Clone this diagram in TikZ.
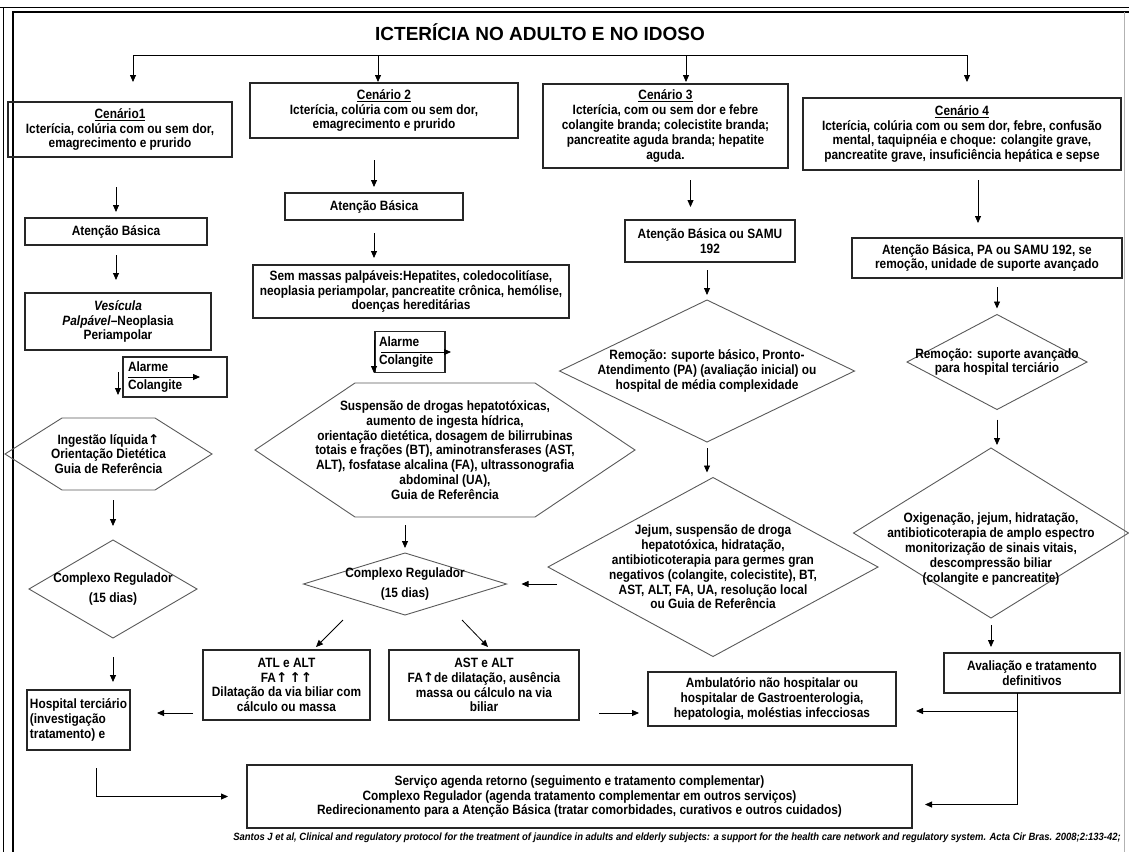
\documentclass[tikz,border=0pt]{standalone}
\usepackage{fontspec}
\setmainfont{Liberation Sans}
\newfontfamily\corpo{Liberation Sans}[FakeStretch=0.88]
\newfontfamily\rodape{Liberation Sans}[FakeStretch=0.9]
\newfontfamily\simbolo{DejaVu Sans}
\newcommand{\sobe}{{\simbolo\bfseries ↑}}
\usetikzlibrary{arrows.meta,shapes.geometric,calc}

\begin{document}
\begin{tikzpicture}[x=1pt,y=-1pt,
    texto/.style={align=center,inner sep=0pt,outer sep=0pt,
      font=\corpo\bfseries\fontsize{13.5}{14.8}\selectfont},
    caixa/.style={texto,draw=black!85,line width=1.1pt},
    losango/.style={diamond,draw=black!65,line width=0.9pt,inner sep=0pt,outer sep=0pt},
    hexa/.style={draw=black!65,line width=0.9pt},
    seta/.style={-{Triangle[length=7pt,width=6pt]},line width=0.8pt}]
  \useasboundingbox (0,0) rectangle (1129,852);

  % moldura
  \draw[line width=0.6pt] (0,7) -- (1129,7);
  \draw[line width=0.6pt] (3,7) -- (3,852);
  \draw[line width=2.5pt] (13,12) -- (1129,12);
  \draw[line width=2.5pt] (13,11) -- (13,852);
  \draw[black!30,line width=0.6pt] (1124,12) -- (1124,852);

  \node[font=\bfseries\fontsize{19}{22}\selectfont] (titulo) at (540,32) {ICTERÍCIA NO ADULTO E NO IDOSO};

  % coluna 1
  \node[caixa,minimum width=224pt,minimum height=55pt] (c1) at (120,129.5)
    {\underline{Cenário1}\\Icterícia, colúria com ou sem dor,\\emagrecimento e prurido};
  \node[caixa,minimum width=182pt,minimum height=27pt] (ab1) at (116,231.5) {Atenção Básica};
  \node[caixa,minimum width=186pt,minimum height=57pt] (ves) at (118,321.5)
    {\textit{Vesícula}\\\textit{Palpável}–Neoplasia\\Periampolar};
  \node[caixa,align=left,text width=94pt,minimum width=104pt,minimum height=40pt] (al1) at (175,377)
    {Alarme\\[4pt]Colangite};
  \node[texto,minimum width=207pt,minimum height=72pt] (hex1) at (108.5,454)
    {Ingestão líquida\sobe\\Orientação Dietética\\Guia de Referência};
  \node[losango,minimum width=168pt,minimum height=98pt] (dia1) at (113,589) {};
  \node[texto] (t1) at (dia1) {Complexo Regulador\\[5pt](15 dias)};
  \node[caixa,align=left,minimum width=103pt,minimum height=60pt] (hosp) at (78.5,720)
    {Hospital terciário\\(investigação\\tratamento) e};

  % coluna 2
  \node[caixa,minimum width=268pt,minimum height=55pt] (c2) at (384,110.5)
    {\underline{Cenário 2}\\Icterícia, colúria com ou sem dor,\\emagrecimento e prurido};
  \node[caixa,minimum width=178pt,minimum height=27pt] (ab2) at (374,206.5) {Atenção Básica};
  \node[caixa,minimum width=316pt,minimum height=53pt] (sem) at (411,291.5)
    {Sem massas palpáveis:Hepatites, coledocolitíase,\\neoplasia periampolar, pancreatite crônica, hemólise,\\doenças hereditárias};
  \node[caixa,align=left,text width=62pt,minimum width=70pt,minimum height=41pt] (al2) at (410,352)
    {Alarme\\[4pt]Colangite};
  \node[texto,minimum width=380pt,minimum height=134pt] (hex2) at (445,450)
    {Suspensão de drogas hepatotóxicas,\\aumento de ingesta hídrica,\\orientação dietética, dosagem de bilirrubinas\\totais e frações (BT), aminotransferases (AST,\\ALT), fosfatase alcalina (FA), ultrassonografia\\abdominal (UA),\\Guia de Referência};
  \node[losango,minimum width=203pt,minimum height=62pt] (dia2) at (405,584) {};
  \node[texto] (t2) at (dia2) {Complexo Regulador\\[5pt](15 dias)};
  \node[caixa,minimum width=167pt,minimum height=70pt] (atl) at (286.5,685)
    {ATL e ALT\\FA\sobe\,\sobe\sobe\\Dilatação da via biliar com\\cálculo ou massa};
  \node[caixa,minimum width=190pt,minimum height=70pt] (ast) at (484,685)
    {AST e ALT\\FA\sobe de dilatação, ausência\\massa ou cálculo na via\\biliar};

  % coluna 3
  \node[caixa,minimum width=245pt,minimum height=84pt] (c3) at (665.5,126)
    {\underline{Cenário 3}\\Icterícia, com ou sem dor e febre\\colangite branda; colecistite branda;\\pancreatite aguda branda; hepatite\\aguda.};
  \node[caixa,minimum width=170pt,minimum height=42pt] (ab3) at (710,241) {Atenção Básica ou SAMU\\192};
  \node[losango,minimum width=295pt,minimum height=142pt] (dia3a) at (707,371) {};
  \node[texto] (t3a) at (dia3a) {Remoção: suporte básico, Pronto-\\Atendimento (PA) (avaliação inicial) ou\\hospital de média complexidade};
  \node[losango,minimum width=330pt,minimum height=179pt] (dia3b) at (713,567) {};
  \node[texto] (t3b) at (dia3b) {Jejum, suspensão de droga\\hepatotóxica, hidratação,\\antibioticoterapia para germes gran\\negativos (colangite, colecistite), BT,\\AST, ALT, FA, UA, resolução local\\ou Guia de Referência};
  \node[caixa,minimum width=248pt,minimum height=54pt] (amb) at (772,699)
    {Ambulatório não hospitalar ou\\hospitalar de Gastroenterologia,\\hepatologia, moléstias infecciosas};

  % coluna 4
  \node[caixa,minimum width=318pt,minimum height=72pt] (c4) at (962,134)
    {\underline{Cenário 4}\\Icterícia, colúria com ou sem dor, febre, confusão\\mental, taquipnéia e choque: colangite grave,\\pancreatite grave, insuficiência hepática e sepse};
  \node[caixa,minimum width=270pt,minimum height=40pt] (ab4) at (987,258)
    {Atenção Básica, PA ou SAMU 192, se\\remoção, unidade de suporte avançado};
  \node[losango,minimum width=180pt,minimum height=95pt] (dia4a) at (997,362) {};
  \node[texto] (t4a) at (dia4a) {Remoção: suporte avançado\\para hospital terciário};
  \node[losango,minimum width=275pt,minimum height=170pt] (dia4b) at (991,533) {};
  \node[texto] (t4b) at ($(dia4b)+(0,16)$) {Oxigenação, jejum, hidratação,\\antibioticoterapia de amplo espectro\\monitorização de sinais vitais,\\descompressão biliar\\(colangite e pancreatite)};
  \node[caixa,minimum width=176pt,minimum height=40pt] (aval) at (1032,673) {Avaliação e tratamento\\definitivos};

  % final
  \node[caixa,minimum width=665pt,minimum height=63pt] (bot) at (579.5,796.5)
    {Serviço agenda retorno (seguimento e tratamento complementar)\\Complexo Regulador (agenda tratamento complementar em outros serviços)\\Redirecionamento para a Atenção Básica (tratar comorbidades, curativos e outros cuidados)};
  \node[anchor=east,inner sep=0pt,font=\rodape\bfseries\itshape\fontsize{10.5}{12}\selectfont] (fonte) at (1121,838)
    {Santos J et al, Clinical and regulatory protocol for the treatment of jaundice in adults and elderly subjects: a support for the health care network and regulatory system. Acta Cir Bras. 2008;2:133-42;};

  % hexagonos
  \foreach \h/\d in {hex1/57,hex2/100}
    \draw[hexa] (\h.west) -- ([xshift=\d pt]\h.north west) -- ([xshift=-\d pt]\h.north east)
      -- (\h.east) -- ([xshift=-\d pt]\h.south east) -- ([xshift=\d pt]\h.south west) -- cycle;

  % setas de alarme
  \draw[seta] ($(al1.west)+(5,0)$) -- ++(72,0);
  \draw[seta] ($(al2.west)+(6,0)$) -- ++(70,0);

  % barramento
  \coordinate (b1) at (133,55);
  \coordinate (b2) at (378,55);
  \coordinate (b3) at (686,55);
  \coordinate (b4) at (967,55);
  \draw[line width=0.8pt] (b1) -- (b4);
  \foreach \b in {b1,b2,b3,b4}
    \draw[seta] (\b) -- ++(0,27);

  % coluna 1
  \draw[seta,shorten <=30pt,shorten >=6pt] (c1.south -| ab1.north) -- (ab1.north);
  \draw[seta,shorten <=10pt,shorten >=13pt] (ab1.south) -- (ab1.south |- ves.north);
  \draw[seta,shorten <=22pt,shorten >=23pt] (ves.south) -- (ves.south |- hex1.north);
  \draw[seta,shorten <=10pt,shorten >=14pt] (dia1.north |- hex1.south) -- (dia1.north);
  \draw[seta,shorten <=19pt,shorten >=8pt] (dia1.south) -- (dia1.south |- hosp.north);
  \draw[seta] ($(hosp.south)+(18,18)$) |- ($(bot.west)+(-19,0)$);

  % coluna 2
  \draw[seta,shorten <=22pt,shorten >=6pt] (c2.south -| ab2.north) -- (ab2.north);
  \draw[seta,shorten <=13pt,shorten >=7pt] (ab2.south) -- (ab2.south |- sem.north);
  \draw[seta,shorten <=22pt,shorten >=10pt] (ab2.south |- sem.south) -- (ab2.south |- hex2.north);
  \draw[seta,shorten <=8pt,shorten >=5pt] (dia2.north |- hex2.south) -- (dia2.north);
  \draw[seta] ($(dia3b.west |- dia2.east)+(9,0)$) -- ($(dia2.east)+(15,0)$);
  \draw[seta] ($(dia2.south)+(-62,5)$) -- ($(atl.north)+(29.5,-3)$);
  \draw[seta] ($(dia2.south)+(57,5)$) -- ($(ast.north)+(4,-3)$);
  \draw[seta] ($(atl.south west)+(-10,-7)$) -- ($(atl.south west -| hosp.east)+(27,-7)$);
  \draw[seta] ($(ast.south east)+(20,-7)$) -- ($(ast.south east -| amb.west)+(-9,-7)$);

  % coluna 3
  \coordinate (c3s) at ($(c3.south)+(25,0)$);
  \draw[seta,shorten <=12pt,shorten >=13pt] (c3s) -- (c3s |- ab3.north);
  \draw[seta,shorten <=8pt,shorten >=5pt] (ab3.south -| dia3a.north) -- (dia3a.north);
  \draw[seta,shorten <=6pt,shorten >=5pt] (dia3a.south) -- (dia3a.south |- dia3b.north);

  % coluna 4
  \coordinate (c4s) at ($(c4.south)+(16,0)$);
  \draw[seta,shorten <=10pt,shorten >=15pt] (c4s) -- (c4s |- ab4.north);
  \draw[seta,shorten <=9pt,shorten >=6pt] (ab4.south -| dia4a.north) -- (dia4a.north);
  \draw[seta,shorten <=10pt,shorten >=3pt] (dia4a.south) -- (dia4a.south |- dia4b.north);
  \draw[seta,shorten <=7pt,shorten >=6pt] (dia4b.south) -- (dia4b.south |- aval.north);
  \coordinate (avs) at ($(aval.south)+(-15,0)$);
  \draw[seta] (avs) |- ($(amb.east)+(20,12)$);
  \draw[seta] (avs) |- ($(bot.east)+(13,8)$);
\end{tikzpicture}
\end{document}
